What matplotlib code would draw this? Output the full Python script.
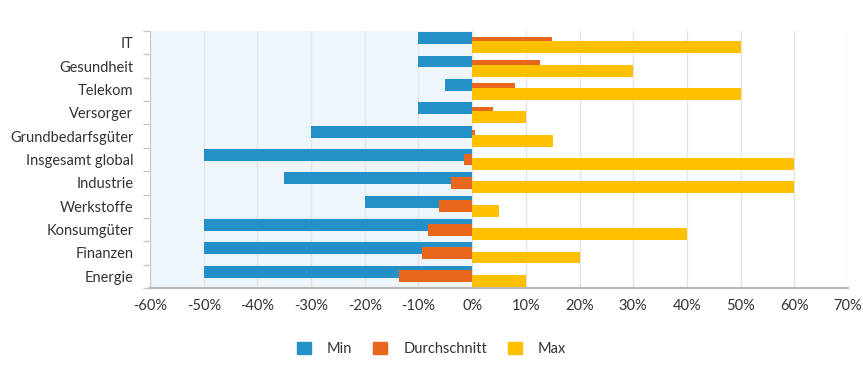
import numpy as np
from matplotlib import pyplot as plt
from matplotlib.patches import Patch

kategorien = ["IT", "Gesundheit", "Telekom", "Versorger", "Grundbedarfsgüter",
              "Insgesamt global", "Industrie", "Werkstoffe", "Konsumgüter",
              "Finanzen", "Energie"]
min_werte = [-10, -10, -5, -10, -30, -50, -35, -20, -50, -50, -50]
durchschnitt = [14.8, 12.7, 7.9, 3.8, 0.6, -1.5, -4.0, -6.2, -8.3, -9.4, -13.7]
max_werte = [50, 30, 50, 10, 15, 60, 60, 5, 40, 20, 10]
xticks = list(range(-60, 71, 10))

blau = "#2391C7"
orange = "#E8671C"
gelb = "#FFC000"
textfarbe = "#333333"

plt.rcParams['font.family'] = ['Lato', 'DejaVu Sans']

fig = plt.figure(figsize=(8.63, 3.66), dpi=100)
ax = fig.add_axes([150/863, 1-288/366, (848-150)/863, (288-31)/366])

y = np.arange(len(kategorien))
h = 0.51
d = 0.195
ax.barh(y - d, min_werte, height=h, color=blau, zorder=3, label="Min")
ax.barh(y, durchschnitt, height=h, color=orange, zorder=4, label="Durchschnitt")
ax.barh(y + d, max_werte, height=h, color=gelb, zorder=5, label="Max")

ax.axvspan(-60, 0, color="#EEF6FB", zorder=0, lw=0)
ax.set_xlim(-60, 70)
ax.set_ylim(len(kategorien) - 0.5, -0.5)

ax.set_xticks(xticks)
ax.set_xticklabels([f"{v}%" for v in xticks], fontsize=10.5, color=textfarbe)
ax.xaxis.grid(True, color="#E4E4E4", lw=1, zorder=1)
ax.tick_params(axis="x", length=0, pad=8)

ax.set_yticks(y)
ax.set_yticklabels(kategorien, fontsize=10.5, color=textfarbe)
ax.set_yticks(np.arange(-0.5, len(kategorien), 1), minor=True)
ax.tick_params(axis="y", which="major", length=0, pad=12)
ax.tick_params(axis="y", which="minor", length=5, color="#C8C8C8", width=1)

for s in ["top", "right"]:
    ax.spines[s].set_visible(False)
ax.spines["left"].set_color("#C8C8C8")
ax.spines["bottom"].set_color("#B8B8B8")
ax.spines["bottom"].set_linewidth(1.6)

handles = [Patch(color=blau, label="Min"), Patch(color=orange, label="Durchschnitt"),
           Patch(color=gelb, label="Max")]
fig.legend(handles=handles, loc="center", bbox_to_anchor=(0.5, 1-349/366), ncol=3,
           frameon=False, fontsize=10.5, handlelength=0.95, handleheight=0.95,
           columnspacing=1.45, handletextpad=1.1, labelcolor=textfarbe)

fig.savefig("out.png", dpi=100)
